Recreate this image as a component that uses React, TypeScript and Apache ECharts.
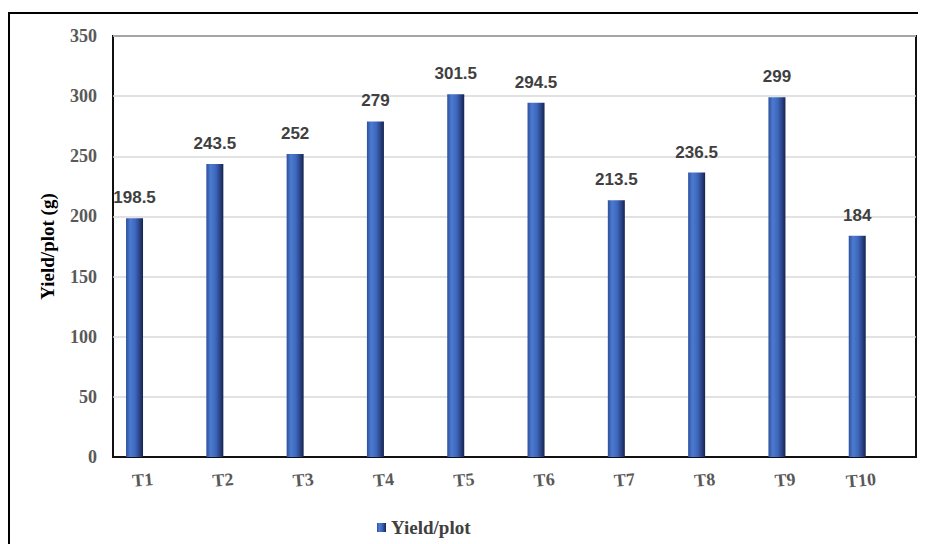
import React, { useEffect, useRef } from "react";
import * as echarts from "echarts";

const categories = ["T1", "T2", "T3", "T4", "T5", "T6", "T7", "T8", "T9", "T10"];
const yieldValues = [198.5, 243.5, 252, 279, 301.5, 294.5, 213.5, 236.5, 299, 184];
const emptySeries = [null, null, null, null, null, null, null, null, null, null];
const seriesName = "Yield/plot";
const yAxisTitle = "Yield/plot (g)";

const SERIF = "'Liberation Serif', 'Times New Roman', serif";
const SANS = "'Liberation Sans', Arial, sans-serif";

export default function App() {
  const ref = useRef<HTMLDivElement>(null);
  useEffect(() => {
    if (!ref.current) return;
    const chart = echarts.init(ref.current, null, { renderer: "svg" });
    const barGradient = new echarts.graphic.LinearGradient(0, 0, 1, 0, [
      { offset: 0, color: "#2e4f9c" },
      { offset: 0.25, color: "#4b7bd1" },
      { offset: 0.55, color: "#3e67bb" },
      { offset: 0.82, color: "#283f82" },
      { offset: 1, color: "#15244c" },
    ]);
    chart.setOption({
      animation: false,
      backgroundColor: "#ffffff",
      grid: {
        left: 105,
        top: 28,
        right: 10,
        bottom: 87,
        show: true,
        borderColor: "#111111",
        borderWidth: 2,
        containLabel: false,
      },
      legend: {
        data: [seriesName],
        left: 364,
        top: 505,
        icon: "rect",
        itemWidth: 9,
        itemHeight: 9,
        itemGap: 6,
        textStyle: {
          fontFamily: SERIF,
          fontWeight: "bold",
          fontSize: 19,
          color: "#404040",
        },
      },
      xAxis: {
        type: "category",
        data: categories,
        axisLine: { show: true, lineStyle: { color: "#111111", width: 2 } },
        axisTick: { show: false },
        axisLabel: {
          rotate: 5,
          margin: 22,
          fontFamily: SERIF,
          fontWeight: "bold",
          fontSize: 18,
          color: "#595959",
        },
      },
      yAxis: {
        type: "value",
        min: 0,
        max: 350,
        interval: 50,
        name: yAxisTitle,
        nameLocation: "middle",
        nameGap: 56,
        nameTextStyle: {
          fontFamily: SERIF,
          fontWeight: "bold",
          fontSize: 19,
          color: "#000000",
        },
        axisLine: { show: false },
        axisTick: { show: false },
        axisLabel: {
          margin: 16,
          fontFamily: SERIF,
          fontWeight: "bold",
          fontSize: 18,
          color: "#595959",
        },
        splitLine: { lineStyle: { color: "#d9d9d9", width: 1.5 } },
      },
      series: [
        {
          name: seriesName,
          type: "bar",
          data: yieldValues,
          barWidth: 17,
          barGap: "119%",
          itemStyle: { color: barGradient },
          label: {
            show: true,
            position: "top",
            distance: 12,
            fontFamily: SANS,
            fontWeight: "bold",
            fontSize: 17,
            color: "#404040",
          },
        },
        {
          name: "hidden",
          type: "bar",
          data: emptySeries,
          barWidth: 17,
          itemStyle: { color: "transparent" },
        },
      ],
      graphic: [
        {
          type: "line",
          shape: { x1: 1, y1: 5, x2: 1, y2: 540 },
          style: { stroke: "#000000", lineWidth: 2 },
        },
        {
          type: "line",
          shape: { x1: 0, y1: 5, x2: 918, y2: 5 },
          style: { stroke: "#000000", lineWidth: 2 },
        },
      ],
    });
    return () => chart.dispose();
  }, []);
  return <div ref={ref} style={{ width: 918, height: 536 }} />;
}
